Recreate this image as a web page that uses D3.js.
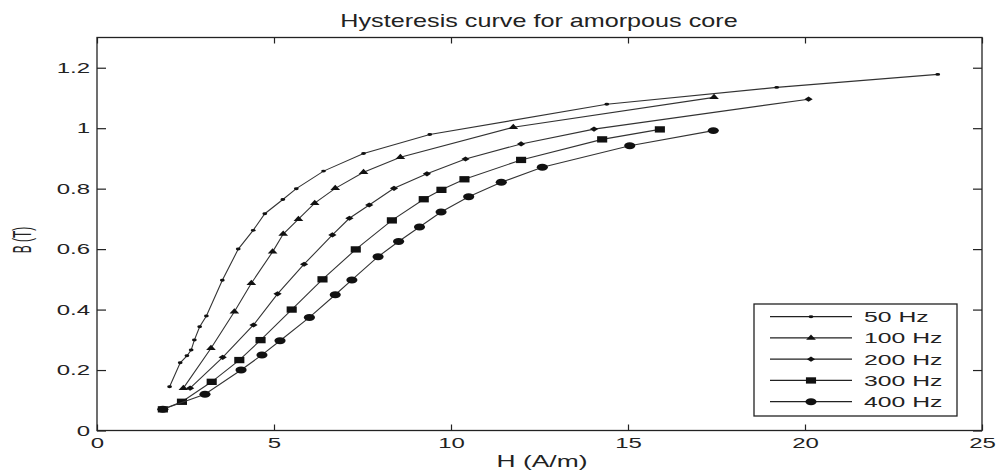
<!DOCTYPE html>
<html>
<head>
<meta charset="utf-8">
<script src="https://cdn.jsdelivr.net/npm/d3@7"></script>
<style>
  body { margin: 0; background: #fff; }
  svg { font-family: "Liberation Sans", Arial, sans-serif; }
</style>
</head>
<body>
<div class="graph"></div>
<script>
// readings: H in A/m, B in T
let h50 = [2.05, 2.35, 2.54, 2.66, 2.75, 2.9, 3.09, 3.54, 3.99, 4.41, 4.74, 5.25, 5.63, 6.4, 7.53, 9.4, 14.4, 19.2, 23.75]
let b50 = [0.145, 0.224, 0.247, 0.266, 0.299, 0.343, 0.379, 0.497, 0.6, 0.662, 0.717, 0.764, 0.8, 0.858, 0.916, 0.979, 1.079, 1.135, 1.178]

let h100 = [2.44, 3.22, 3.88, 4.36, 4.96, 5.26, 5.69, 6.15, 6.73, 7.53, 8.57, 11.76, 17.43]
let b100 = [0.14, 0.272, 0.393, 0.487, 0.591, 0.65, 0.699, 0.752, 0.801, 0.854, 0.904, 1.003, 1.102]

let h200 = [2.63, 3.55, 4.42, 5.1, 5.85, 6.65, 7.13, 7.69, 8.39, 9.32, 10.41, 11.98, 14.04, 20.1]
let b200 = [0.14, 0.242, 0.349, 0.452, 0.55, 0.647, 0.702, 0.746, 0.801, 0.849, 0.898, 0.948, 0.997, 1.096]

let h300 = [1.86, 2.4, 3.24, 4.02, 4.62, 5.5, 6.37, 7.31, 8.33, 9.23, 9.73, 10.38, 11.98, 14.27, 15.9]
let b300 = [0.07, 0.095, 0.161, 0.233, 0.299, 0.4, 0.5, 0.599, 0.695, 0.765, 0.796, 0.831, 0.895, 0.963, 0.996]

let h400 = [1.86, 3.05, 4.07, 4.66, 5.17, 6.0, 6.73, 7.2, 7.94, 8.52, 9.11, 9.72, 10.5, 11.42, 12.58, 15.05, 17.41]
let b400 = [0.07, 0.12, 0.2, 0.25, 0.297, 0.374, 0.449, 0.498, 0.575, 0.625, 0.673, 0.723, 0.773, 0.821, 0.871, 0.942, 0.992]

let names = ['50 Hz', '100 Hz', '200 Hz', '300 Hz', '400 Hz']
let xTicks = [0, 5, 10, 15, 20, 25]
let yTicks = [0, 0.2, 0.4, 0.6, 0.8, 1, 1.2]

let width = 998,
    height = 474

let plotLeft = 97, plotRight = 982, plotTop = 37.5, plotBottom = 430.5

// the original figure is stretched sideways, so text and marks are too
let stretch = 1.6

let series = [
    { name: names[0], h: h50, b: b50, symbol: d3.symbolCircle, size: 7 },
    { name: names[1], h: h100, b: b100, symbol: d3.symbolTriangle, size: 16 },
    { name: names[2], h: h200, b: b200, symbol: d3.symbolDiamond2, size: 17 },
    { name: names[3], h: h300, b: b300, symbol: d3.symbolSquare, size: 40 },
    { name: names[4], h: h400, b: b400, symbol: d3.symbolCircle, size: 38 }
]

let x = d3.scaleLinear().domain([0, 25]).range([plotLeft, plotRight])
let y = d3.scaleLinear().domain([0, 1.3]).range([plotBottom, plotTop])

let svg = d3.select('.graph').append('svg')
    .attr('width', width)
    .attr('height', height)

let fmt = d => String(+d.toFixed(1))

// axes, MATLAB style: ticks pointing inward on all four sides
svg.append('g')
    .attr('transform', 'translate(0,' + plotBottom + ')')
    .call(d3.axisBottom(x).tickValues(xTicks).tickSize(-6).tickPadding(6.5).tickFormat(fmt))
svg.append('g')
    .attr('transform', 'translate(0,' + plotTop + ')')
    .call(d3.axisTop(x).tickValues(xTicks).tickSize(-6).tickFormat(''))
let gy = svg.append('g')
    .attr('transform', 'translate(' + plotLeft + ',0)')
    .call(d3.axisLeft(y).tickValues(yTicks).tickSize(-9).tickFormat(fmt))
svg.append('g')
    .attr('transform', 'translate(' + plotRight + ',0)')
    .call(d3.axisRight(y).tickValues(yTicks).tickSize(-9).tickFormat(''))

svg.selectAll('.domain').remove()
svg.selectAll('.tick line').attr('stroke', '#222').attr('stroke-width', 1.2)
svg.selectAll('.tick text')
    .attr('font-size', 15)
    .attr('fill', '#222')
    .attr('font-family', '"Liberation Sans", Arial, sans-serif')
    .attr('transform', 'scale(' + stretch + ',1)')
gy.selectAll('.tick text').attr('x', -7 / stretch)

svg.append('rect')
    .attr('x', plotLeft).attr('y', plotTop)
    .attr('width', plotRight - plotLeft).attr('height', plotBottom - plotTop)
    .attr('fill', 'none')
    .attr('stroke', '#222')
    .attr('stroke-width', 1.3)

let line = d3.line()
    .x(d => x(d[0]))
    .y(d => y(d[1]))

let plot = svg.append('g')

series.forEach(function(s) {
    let pts = s.h.map((h, i) => [h, s.b[i]])
    plot.append('path')
        .datum(pts)
        .attr('fill', 'none')
        .attr('stroke', '#333')
        .attr('stroke-width', 1.1)
        .attr('d', line)
    plot.selectAll(null)
        .data(pts)
        .enter().append('path')
        .attr('transform', d => 'translate(' + x(d[0]) + ',' + y(d[1]) + ') scale(' + stretch + ',1)')
        .attr('d', d3.symbol().type(s.symbol).size(s.size))
        .attr('fill', '#111')
})

// legend
let lg = svg.append('g')
lg.append('rect')
    .attr('x', 754).attr('y', 304)
    .attr('width', 203).attr('height', 112)
    .attr('fill', '#fff')
    .attr('stroke', '#222')
    .attr('stroke-width', 1.3)

series.forEach(function(s, i) {
    let ly = 316.7 + i * 21.25
    lg.append('line')
        .attr('x1', 770).attr('x2', 852)
        .attr('y1', ly).attr('y2', ly)
        .attr('stroke', '#222')
        .attr('stroke-width', 1.2)
    lg.append('path')
        .attr('transform', 'translate(811,' + ly + ') scale(' + stretch + ',1)')
        .attr('d', d3.symbol().type(s.symbol).size(s.size))
        .attr('fill', '#111')
    lg.append('text')
        .attr('transform', 'translate(864,' + (ly + 5.3) + ') scale(1.65,1)')
        .attr('font-size', 15)
        .attr('fill', '#222')
        .text(s.name)
})

svg.append('text')
    .attr('transform', 'translate(539,26.5) scale(1.4,1)')
    .attr('text-anchor', 'middle')
    .attr('font-size', 18)
    .attr('fill', '#222')
    .text('Hysteresis curve for amorpous core')

svg.append('text')
    .attr('transform', 'translate(542,467) scale(1.65,1)')
    .attr('text-anchor', 'middle')
    .attr('font-size', 16)
    .attr('fill', '#222')
    .text('H (A/m)')

svg.append('text')
    .attr('transform', 'translate(31,240) rotate(-90) scale(1,2.1)')
    .attr('text-anchor', 'middle')
    .attr('font-size', 12)
    .attr('fill', '#222')
    .text('B (T)')
</script>
</body>
</html>
